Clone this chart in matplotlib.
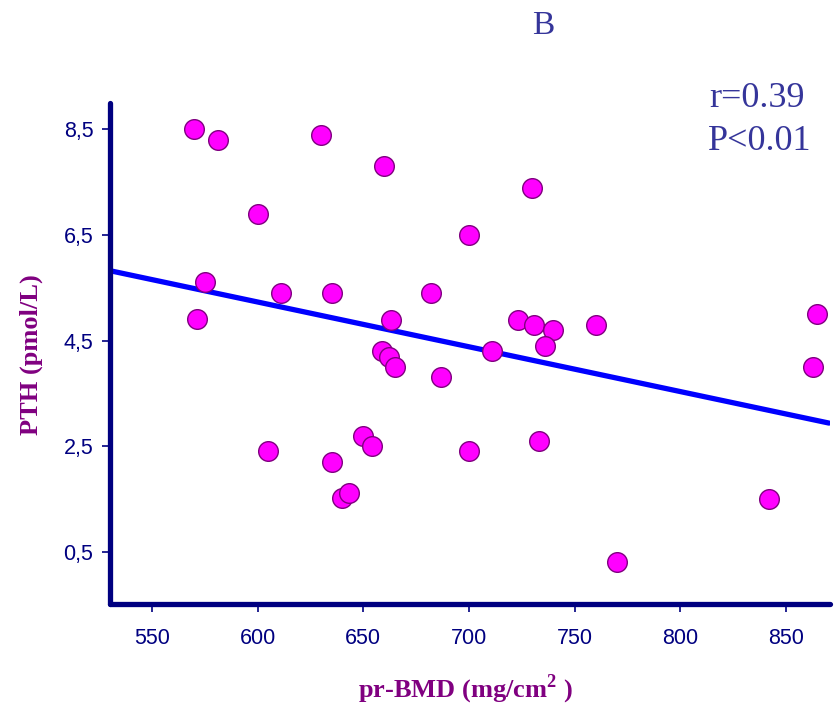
import matplotlib
matplotlib.use("Agg")
import matplotlib.pyplot as plt

# pr-BMD (mg/cm2) and PTH (pmol/L)
bmd = [570, 581, 600, 575, 611, 571, 605, 630, 660, 635, 663, 659, 662, 665,
       635, 650, 654, 640, 643, 700, 682, 687, 700, 711, 730, 723, 731, 740,
       736, 760, 733, 770, 842, 865, 863]
pth = [8.50, 8.29, 6.89, 5.61, 5.40, 4.91, 2.41, 8.39, 7.80, 5.40, 4.89, 4.30,
       4.19, 4.00, 2.21, 2.70, 2.51, 1.52, 1.62, 6.50, 5.40, 3.81, 2.41, 4.30,
       7.38, 4.89, 4.79, 4.70, 4.40, 4.79, 2.60, 0.31, 1.51, 5.00, 4.00]

# regression line end points
fit_x = [530, 870.5]
fit_y = [5.82, 2.94]

xticks = [550, 600, 650, 700, 750, 800, 850]
yticks = [0.5, 2.5, 4.5, 6.5, 8.5]
ytick_labels = ["0,5", "2,5", "4,5", "6,5", "8,5"]

navy = "#000080"
purple = "#800080"
stat_color = "#35359a"

plt.rcParams["mathtext.fontset"] = "custom"
plt.rcParams["mathtext.rm"] = "Liberation Serif:bold"

fig = plt.figure(figsize=(8.37, 7.07), dpi=100)
ax = fig.add_axes([110 / 837, 1 - 604 / 707, 720 / 837, 501 / 707])

ax.plot(fit_x, fit_y, color="#0000ff", lw=3.8, solid_capstyle="round", zorder=2)
ax.scatter(bmd, pth, s=200, color="#ff00ff", edgecolors=purple, linewidths=1.0, zorder=3)

ax.set_xlim(530, 871)
ax.set_ylim(-0.48, 8.99)
ax.set_xticks(xticks)
ax.set_yticks(yticks)
ax.set_yticklabels(ytick_labels)

for side in ["top", "right"]:
    ax.spines[side].set_visible(False)
for side in ["left", "bottom"]:
    ax.spines[side].set_color(navy)
    ax.spines[side].set_linewidth(3.8)
    ax.spines[side].set_capstyle("round")

ax.tick_params(direction="out", length=6, width=1.2, color=navy,
               labelcolor=navy, labelsize=15.5)
ax.tick_params(axis="x", pad=11)
ax.tick_params(axis="y", pad=6)
for lab in ax.get_xticklabels() + ax.get_yticklabels():
    lab.set_fontfamily("Liberation Sans")

fig.text(543 / 837, 1 - 34 / 707, "B", ha="center", va="baseline",
         fontsize=24, color=stat_color, family="Liberation Serif")
fig.text(805 / 837, 1 - 107 / 707, "r=0.39", ha="right", va="baseline",
         fontsize=26, color=stat_color, family="Liberation Serif")
fig.text(811 / 837, 1 - 150 / 707, "P<0.01", ha="right", va="baseline",
         fontsize=26, color=stat_color, family="Liberation Serif")

fig.text(31 / 837, 1 - 355 / 707, "PTH (pmol/L)", rotation=90, ha="center",
         va="center", fontsize=19, fontweight="bold", color=purple,
         family="Liberation Serif")
fig.text(358 / 837, 1 - 697 / 707, r"pr-BMD (mg/cm$^{\mathrm{2}}$ )", ha="left",
         va="baseline", fontsize=19, fontweight="bold", color=purple,
         family="Liberation Serif")

fig.savefig("out.png", dpi=100)
